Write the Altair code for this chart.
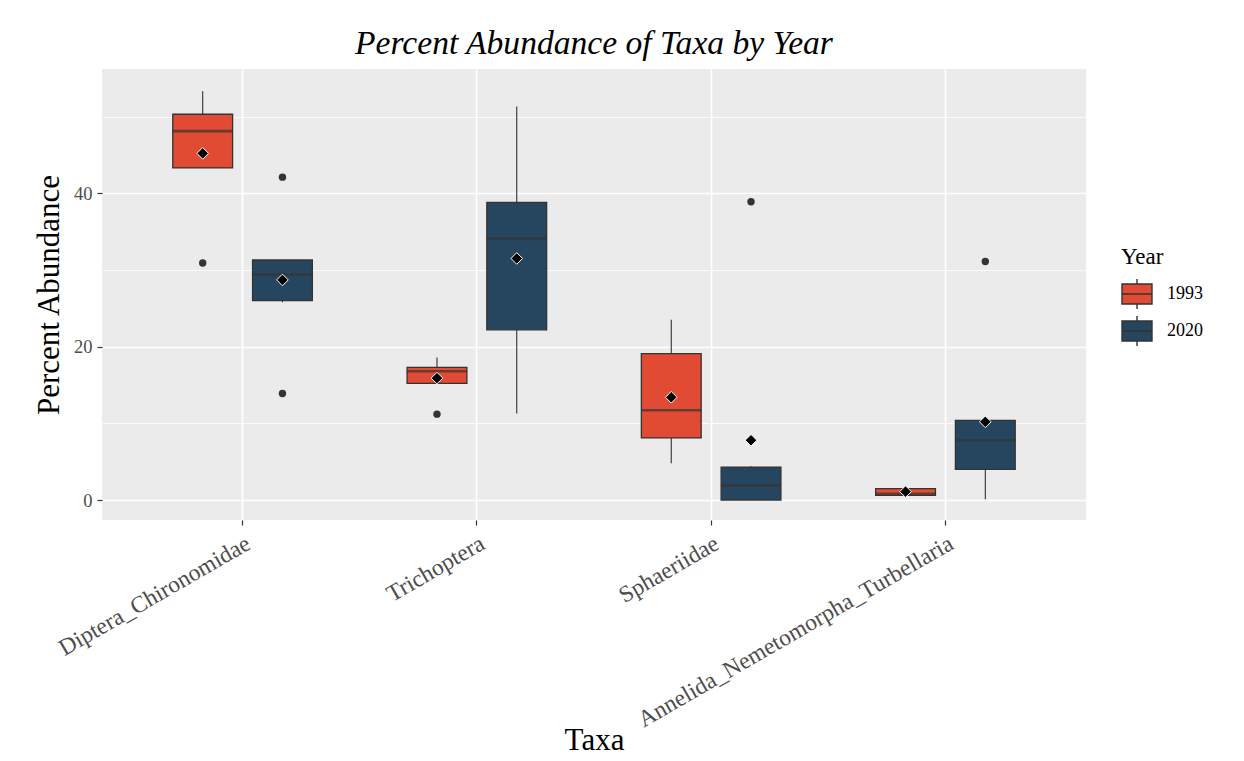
import altair as alt
import pandas as pd

taxa = ["Diptera_Chironomidae", "Trichoptera", "Sphaeriidae",
        "Annelida_Nemetomorpha_Turbellaria"]
years = ["1993", "2020"]

# box statistics, in order (taxon, year) for each taxon x year
box_taxa = [t for t in taxa for _ in years]
box_year = years * len(taxa)
whisk_lo = [43.3, 25.8, 15.2, 11.3, 4.8, 0.0, 0.6, 0.1]
q1 = [43.3, 26.0, 15.2, 22.2, 8.1, 0.0, 0.6, 4.0]
median = [48.1, 29.4, 16.8, 34.1, 11.7, 1.9, 0.8, 7.8]
q3 = [50.3, 31.3, 17.3, 38.8, 19.1, 4.3, 1.5, 10.4]
whisk_hi = [53.3, 31.3, 18.6, 51.3, 23.5, 4.4, 1.5, 10.4]
mean = [45.2, 28.7, 15.9, 31.5, 13.4, 7.8, 1.1, 10.2]

out_taxa = ["Diptera_Chironomidae", "Diptera_Chironomidae", "Diptera_Chironomidae",
            "Trichoptera", "Sphaeriidae", "Annelida_Nemetomorpha_Turbellaria"]
out_year = ["1993", "2020", "2020", "1993", "2020", "2020"]
out_value = [30.9, 42.1, 13.9, 11.2, 38.9, 31.1]

colors = ["#E24B33", "#26465F"]

box_df = pd.DataFrame({"Taxa": box_taxa, "Year": box_year, "lo": whisk_lo,
                       "q1": q1, "median": median, "q3": q3, "hi": whisk_hi,
                       "mean": mean})
out_df = pd.DataFrame({"Taxa": out_taxa, "Year": out_year, "value": out_value})

SERIF = "Liberation Serif"

x_enc = alt.X("Taxa:N", sort=taxa, title="Taxa",
              scale=alt.Scale(domain=taxa, paddingInner=0, paddingOuter=0.1),
              axis=alt.Axis(bandPosition=0.5, labelAngle=-30, labelAlign="right",
                            labelBaseline="top", labelFontSize=23.5, labelLimit=0,
                            labelColor="#4D4D4D", labelFont=SERIF,
                            titleFont=SERIF, titleFontSize=31,
                            titleFontWeight="normal", titleColor="black",
                            tickColor="#333333", tickSize=5, tickWidth=1.2,
                            labelPadding=6, domain=False, grid=True,
                            gridColor="white", gridWidth=1.6, titlePadding=5))
xo_enc = alt.XOffset("Year:N", sort=years,
                     scale=alt.Scale(domain=years, paddingInner=0.25,
                                     paddingOuter=0.59375))
y_scale = alt.Scale(domain=[-2.6, 56.2], nice=False, zero=False)
color_scale = alt.Scale(domain=years, range=colors)

base = alt.Chart(box_df).encode(x=x_enc, xOffset=xo_enc)

whiskers = base.mark_rule(color="#333333", strokeWidth=1.1).encode(
    y=alt.Y("lo:Q", scale=y_scale, title="Percent Abundance",
            axis=alt.Axis(values=[0, 10, 20, 30, 40, 50],
                          labelExpr="datum.value % 20 === 0 ? datum.label : ''",
                          tickOpacity={"condition": {"test": "datum.value % 20 === 0", "value": 1}, "value": 0},
                          gridWidth={"condition": {"test": "datum.value % 20 === 0", "value": 1.6}, "value": 0.8},
                          gridColor="white", domain=False,
                          labelFont=SERIF, labelFontSize=18.5, labelColor="#4D4D4D",
                          tickColor="#333333", tickSize=5, tickWidth=1.2,
                          labelPadding=5,
                          titleFont=SERIF, titleFontSize=31, titleFontWeight="normal",
                          titleColor="black", titlePadding=8)),
    y2="hi:Q",
)

boxes = base.mark_bar(stroke="#333333", strokeWidth=1.3).encode(
    y=alt.Y("q1:Q", scale=y_scale),
    y2="q3:Q",
    color=alt.Color("Year:N", scale=color_scale,
                    legend=alt.Legend(
                        title="Year", orient="none", legendX=1019, legendY=177,
                        titleFont=SERIF, titleFontSize=23, titleFontWeight="normal",
                        titleColor="black", titlePadding=9,
                        labelFont=SERIF, labelFontSize=18, labelColor="black",
                        labelOffset=14, rowPadding=1,
                        symbolType="M-1,-0.67H1V0.67H-1Z M-1,0H1 M0,-0.67V-1 M0,0.67V1",
                        symbolSize=900, symbolStrokeColor="#333333",
                        symbolStrokeWidth=1.4, symbolOpacity=1)),
)

medians = base.mark_tick(color="#333333", thickness=2.6, size=60).encode(
    y=alt.Y("median:Q", scale=y_scale),
)

means = base.mark_point(shape="diamond", filled=True, fill="black",
                        stroke="white", strokeWidth=1, size=135,
                        opacity=1).encode(
    y=alt.Y("mean:Q", scale=y_scale),
)

outliers = alt.Chart(out_df).mark_circle(color="#333333", size=55,
                                         opacity=1).encode(
    x=x_enc, xOffset=xo_enc,
    y=alt.Y("value:Q", scale=y_scale),
)

chart = alt.layer(whiskers, boxes, medians, outliers, means).properties(
    width=984, height=451,
    background="white",
    title=alt.TitleParams("Percent Abundance of Taxa by Year", font=SERIF,
                          fontSize=33.6, fontStyle="italic", fontWeight="normal",
                          color="black", anchor="middle", offset=8),
    padding={"left": 25, "top": 19, "right": 5, "bottom": 0},
).configure_view(fill="#EBEBEB", strokeWidth=0)

chart.save("out.html", embed_options={"renderer": "svg", "actions": False})
